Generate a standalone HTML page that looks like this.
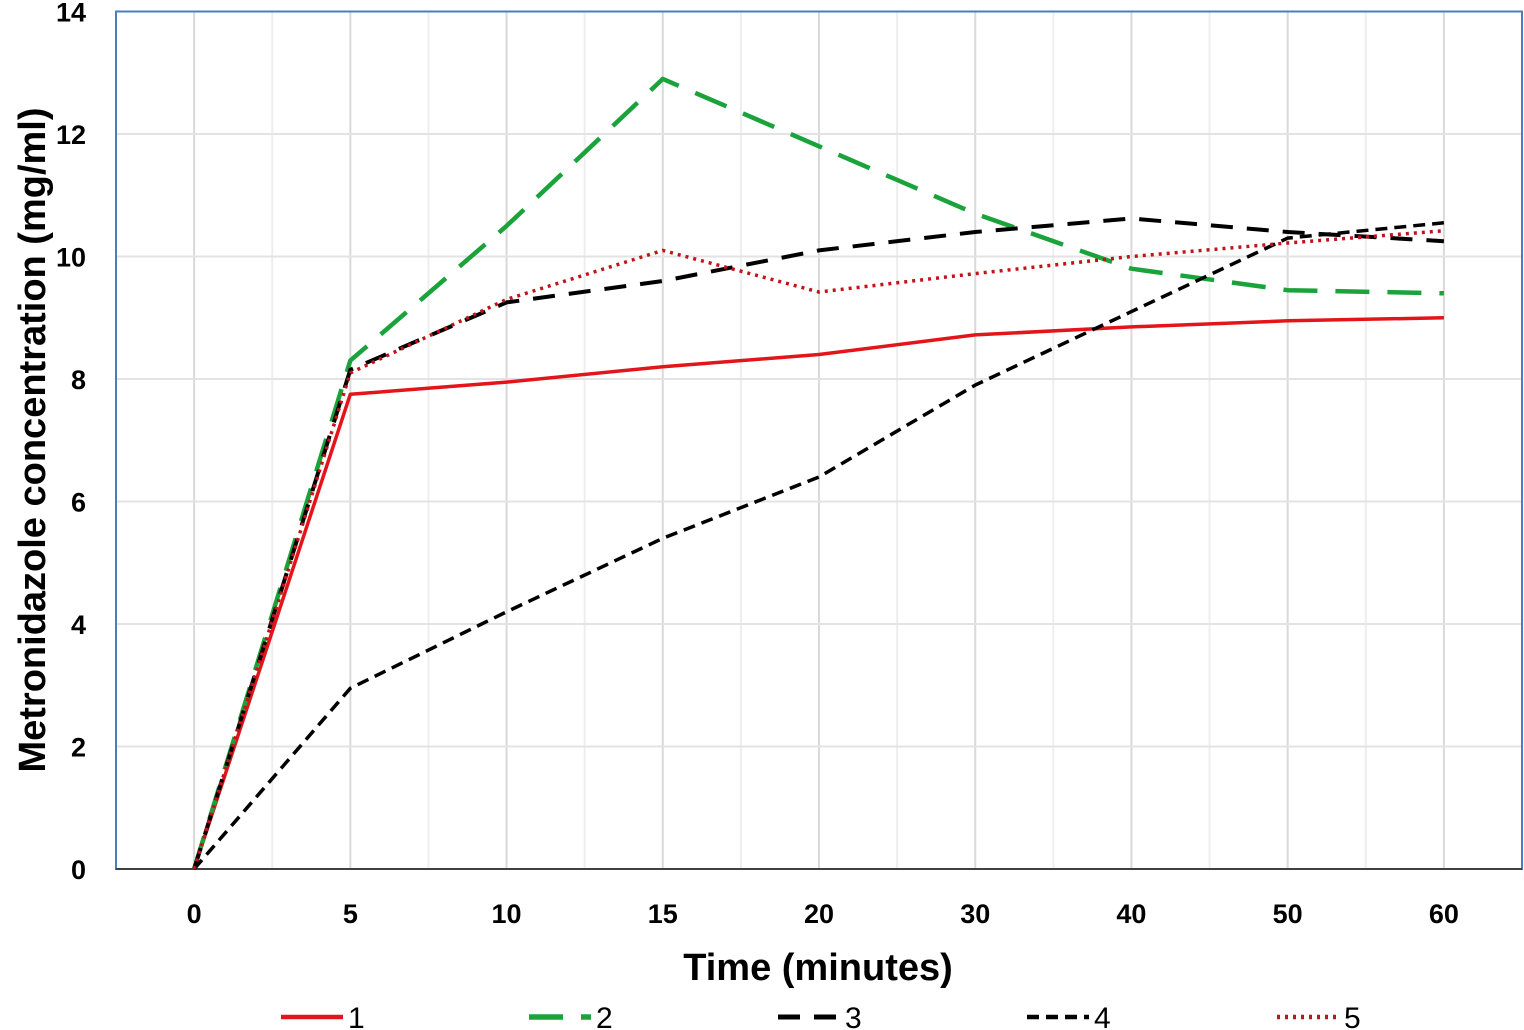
<!DOCTYPE html>
<html><head><meta charset="utf-8"><style>
html,body{margin:0;padding:0;background:#fff;}
svg{display:block;font-family:"Liberation Sans",sans-serif;}
</style></head><body>
<svg id="chart" width="1524" height="1030" xmlns="http://www.w3.org/2000/svg"></svg>
<script>
const categories = ["0","5","10","15","20","30","40","50","60"];
const yTicks = [0,2,4,6,8,10,12,14];
const series1 = [0,7.75,7.95,8.2,8.4,8.72,8.85,8.95,9.0];
const series2 = [0,8.3,10.5,12.9,11.8,10.7,9.8,9.45,9.4];
const series3 = [0,8.15,9.25,9.6,10.1,10.4,10.62,10.4,10.25];
const series4 = [0,2.95,4.2,5.4,6.4,7.9,9.1,10.3,10.55];
const series5 = [0,8.1,9.3,10.1,9.42,9.72,10.0,10.22,10.42];
const seriesNames = ["1","2","3","4","5"];

const NS="http://www.w3.org/2000/svg";
const svg=document.getElementById('chart');
const L=116,R=1522,T=11.5,B=869,yMax=14;
const step=(R-L)/categories.length;
const xs=i=>L+step*(i+0.5);
const ys=v=>B-(v/yMax)*(B-T);
function mk(tag,attrs,parent){const e=document.createElementNS(NS,tag);for(const k in attrs)e.setAttribute(k,attrs[k]);(parent||svg).appendChild(e);return e;}

const grid=mk('g',{});


for(let i=1;i<categories.length*2;i++){
  const x=L+step*i/2;
  mk('line',{x1:x,x2:x,y1:T,y2:B,stroke:i%2?'#d9d9d9':'#eeeeee','stroke-width':2},grid);
}
yTicks.forEach(v=>{if(v>0&&v<yMax){mk('line',{x1:L,x2:R,y1:ys(v),y2:ys(v),stroke:'#e3e3e3','stroke-width':2},grid);}});

const border=mk('rect',{x:L,y:T,width:R-L,height:B-T,fill:'none',stroke:'#4a7ebb','stroke-width':2});


const xaxis=mk('line',{x1:L,x2:R,y1:B,y2:B,stroke:'#404040','stroke-width':2});



yTicks.forEach(v=>{
  const t=mk('text',{x:86,y:ys(v)+10,'text-anchor':'end','font-size':27,'font-weight':'bold',fill:'#000'});
  t.textContent=v;
  
  
});
categories.forEach((c,i)=>{
  const t=mk('text',{x:xs(i),y:923,'text-anchor':'middle','font-size':27,'font-weight':'bold',fill:'#000'});
  t.textContent=c;
  
  
});

const xt=mk('text',{x:818,y:980,'text-anchor':'middle','font-size':38,'font-weight':'bold',fill:'#000'});
xt.textContent='Time (minutes)';


const yt=mk('text',{x:0,y:0,'text-anchor':'middle','font-size':38,'font-weight':'bold',fill:'#000',transform:'translate(45,440) rotate(-90)'});
yt.textContent='Metronidazole concentration (mg/ml)';



const styles=[
  {c:'#e3151a',d:'',w:3.5},
  {c:'#1aa33a',d:'34 18',w:4.5},
  {c:'#000',d:'22 14',w:4},
  {c:'#000',d:'12 7',w:3.5},
  {c:'#c0141a',d:'3 5',w:3.5}
];
const allSeries=[series1,series2,series3,series4,series5];
allSeries.forEach((s,k)=>{
  const p=s.map((v,i)=>(i?'L':'M')+xs(i).toFixed(1)+' '+ys(v).toFixed(1)).join(' ');
  const e=mk('path',{d:p,fill:'none',stroke:styles[k].c,'stroke-width':styles[k].w,'stroke-dasharray':styles[k].d,'stroke-linejoin':'round'});
  
  
});

const legX=[281,529,778,1027,1277];
seriesNames.forEach((n,k)=>{
  const g=mk('g',{});
  
  
  mk('line',{x1:legX[k],x2:legX[k]+62,y1:1017,y2:1017,stroke:styles[k].c,'stroke-width':styles[k].w+1,'stroke-dasharray':styles[k].d},g);
  const t=mk('text',{x:legX[k]+67,y:1028,'font-size':30,fill:'#000'},g);
  t.textContent=n;
});
</script>
</body></html>
